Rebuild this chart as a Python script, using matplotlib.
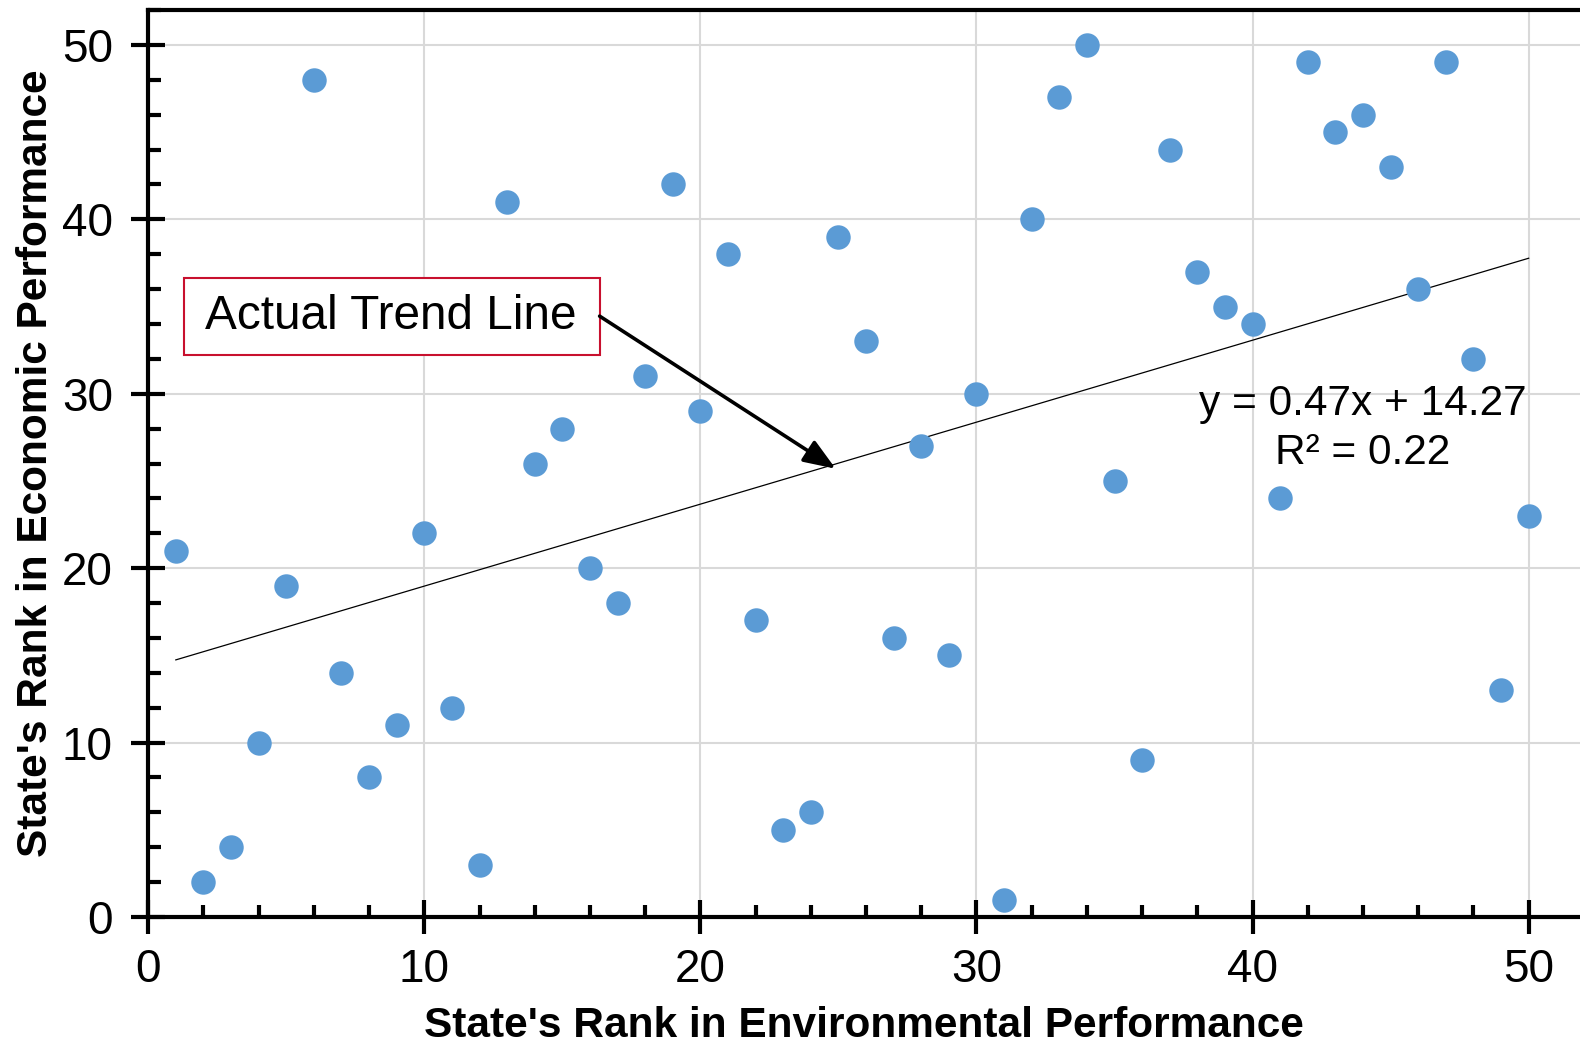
import matplotlib.pyplot as plt
from matplotlib.patches import Rectangle
from matplotlib.ticker import MultipleLocator

plt.rcParams['font.family'] = ['Liberation Sans', 'DejaVu Sans']

# Environmental rank (x) against economic rank (y) for each state
env_rank = list(range(1, 51))
econ_rank = [21, 2, 4, 10, 19, 48, 14, 8, 11, 22,
             12, 3, 41, 26, 28, 20, 18, 31, 42, 29,
             38, 17, 5, 6, 39, 33, 16, 27, 15, 30,
             1, 40, 47, 50, 25, 9, 44, 37, 35, 34,
             24, 49, 45, 46, 43, 36, 49, 32, 13, 23]

# Linear trend as reported on the chart
slope = 0.47
intercept = 14.27
r_squared = 0.22

fig = plt.figure(figsize=(15.8, 10.47), dpi=100)
ax = fig.add_axes([0.0938, 0.1242, 0.9062, 0.8662])

ax.set_xlim(0, 51.86)
ax.set_ylim(0, 52)

ax.grid(True, which='major', color='#d9d9d9', linewidth=1.5)
ax.set_axisbelow(True)

ax.scatter(env_rank, econ_rank, s=310, color='#5b9bd5', zorder=3, linewidths=0)

x0, x1 = env_rank[0], env_rank[-1]
ax.plot([x0, x1], [slope * x0 + intercept, slope * x1 + intercept],
        color='black', linewidth=0.9, zorder=2)

ax.text(44.0, 28.0, f"y = {slope:.2f}x + {intercept:.2f}\nR\u00b2 = {r_squared:.2f}",
        ha='center', va='center', fontsize=30.5, linespacing=1.27)

# Callout box with an arrow pointing at the trend line
ax.add_patch(Rectangle((1.28, 32.25), 15.07, 4.4, facecolor='white',
                       edgecolor='#c8102e', linewidth=1.5, zorder=4))
ax.text(8.8, 34.45, 'Actual Trend Line', ha='center', va='center',
        fontsize=34.4, zorder=5)
ax.annotate('', xy=(24.9, 25.7), xytext=(16.35, 34.45),
            arrowprops=dict(arrowstyle='-|>,head_length=0.65,head_width=0.25',
                            mutation_scale=30, color='black', lw=2.6,
                            shrinkA=0, shrinkB=0), zorder=5)

ax.xaxis.set_major_locator(MultipleLocator(10))
ax.xaxis.set_minor_locator(MultipleLocator(2))
ax.yaxis.set_major_locator(MultipleLocator(10))
ax.yaxis.set_minor_locator(MultipleLocator(2))
ax.tick_params(which='major', direction='inout', length=25, width=3,
               labelsize=33)
ax.tick_params(axis='x', which='major', pad=10)
ax.tick_params(axis='y', which='major', pad=13)
ax.tick_params(which='minor', direction='in', length=9, width=3)

for side in ['left', 'bottom', 'top']:
    ax.spines[side].set_linewidth(3)
ax.spines['right'].set_visible(False)

ax.set_xlabel("State's Rank in Environmental Performance", fontsize=30.5,
              fontweight='bold', labelpad=10)
ax.set_ylabel("State's Rank in Economic Performance", fontsize=30.5,
              fontweight='bold', labelpad=4)

fig.savefig('out.png', dpi=100)
